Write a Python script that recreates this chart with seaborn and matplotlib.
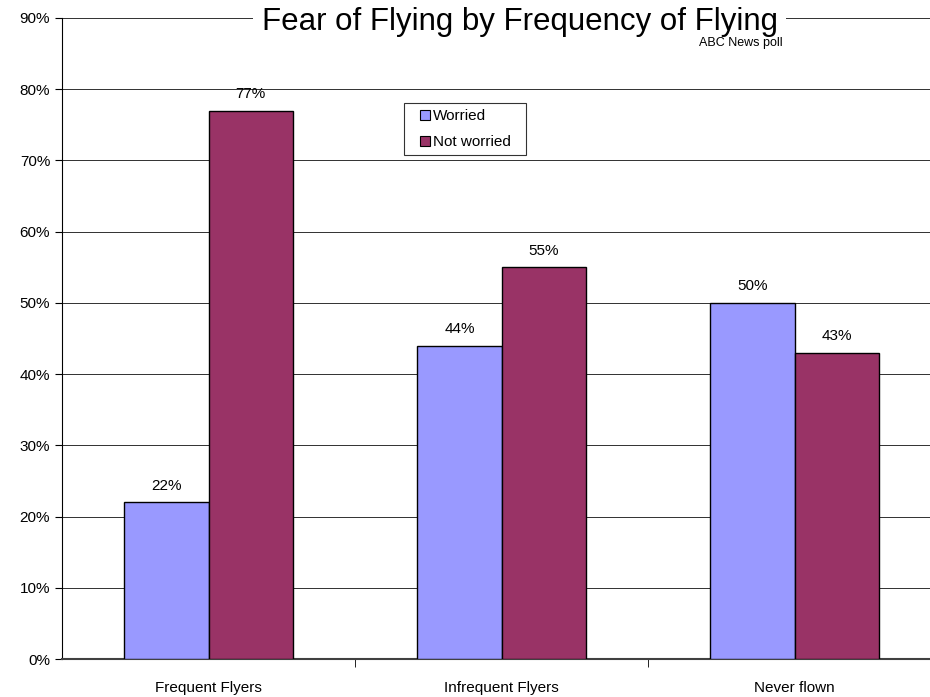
import pandas as pd
import matplotlib.pyplot as plt
import seaborn as sns
from matplotlib.lines import Line2D

# 数据
categories = ["Frequent Flyers", "Infrequent Flyers", "Never flown"]
worried = [22, 44, 50]
not_worried = [77, 55, 43]
series = ["Worried", "Not worried"]

df = pd.DataFrame({
    "group": categories * 2,
    "answer": ["Worried"] * 3 + ["Not worried"] * 3,
    "pct": worried + not_worried,
})

sns.set_style("white")
plt.rcParams['font.family'] = ['Liberation Sans', 'DejaVu Sans']
plt.rcParams['text.color'] = 'black'
plt.rcParams['xtick.color'] = 'black'
plt.rcParams['ytick.color'] = 'black'

colors = {"Worried": "#9999FF", "Not worried": "#993366"}

fig = plt.figure(figsize=(9.3, 6.97), dpi=100)
# 坐标区右侧略超出画布（原图被裁切）
ax = fig.add_axes([0.0667, 0.0545, 0.9452, 0.9197])

sns.barplot(data=df, x="group", y="pct", hue="answer", hue_order=series,
            palette=colors, width=0.574, edgecolor="black", linewidth=1,
            saturation=1, ax=ax, legend=False, zorder=3)

ax.set_ylim(0, 90)
ax.set_xlim(-0.5, 2.5)
ax.set_yticks(range(0, 91, 10))
ax.set_yticklabels([f"{v}%" for v in range(0, 91, 10)], fontsize=11)
ax.set_xticks([0, 1, 2])
ax.set_xticklabels(categories, fontsize=11)
ax.tick_params(axis="x", which="major", length=0, pad=16)
ax.set_xticks([0.5, 1.5], minor=True)
ax.tick_params(axis="x", which="minor", length=6, color="black",
               direction="out", bottom=True)
ax.tick_params(axis="y", length=5, color="black", direction="out", left=True)
ax.set_xlabel("")
ax.set_ylabel("")

ax.yaxis.grid(True, color="#303030", linewidth=0.7, zorder=0)
ax.set_axisbelow(True)
for s in ["top", "right"]:
    ax.spines[s].set_visible(False)
ax.spines["left"].set_color("black")
ax.spines["bottom"].set_color("#404040")
ax.spines["left"].set_linewidth(0.8)
ax.spines["bottom"].set_linewidth(1.5)

for cont in ax.containers:
    ax.bar_label(cont, labels=[f"{int(v)}%" for v in cont.datavalues],
                 padding=7, fontsize=11)

handles = [Line2D([], [], linestyle="none", marker="s", markersize=6.5,
                  markerfacecolor=colors[s], markeredgecolor="black",
                  markeredgewidth=0.8, label=s) for s in series]
leg = ax.legend(handles=handles, loc="upper left",
                bbox_to_anchor=(0.3895, 0.7874, 0.1388, 0.08), mode="expand",
                fontsize=11, frameon=True, fancybox=False, edgecolor="black",
                handlelength=1.9, handletextpad=-0.46,
                borderpad=0.4, labelspacing=0.8, borderaxespad=0)
leg.get_frame().set_linewidth(0.8)

fig.text(0.559, 0.969, "Fear of Flying by Frequency of Flying", fontsize=22.5,
         ha="center", va="center",
         bbox=dict(facecolor="white", edgecolor="none", pad=6))
fig.text(0.841, 0.939, "ABC News poll", fontsize=9, ha="right", va="center")

plt.savefig("out.png", dpi=100)
